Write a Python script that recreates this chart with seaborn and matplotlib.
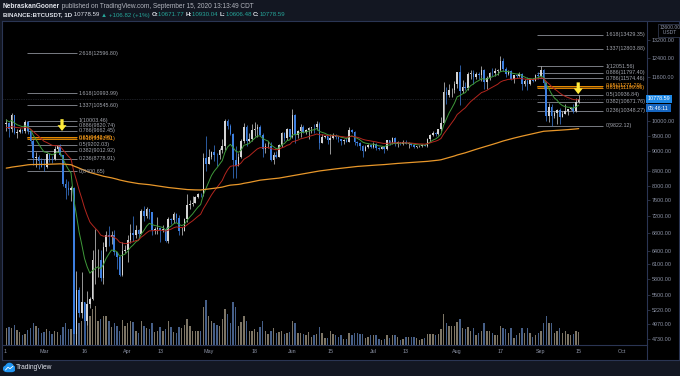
import numpy as np
import pandas as pd
import matplotlib
matplotlib.use("Agg")
import matplotlib.pyplot as plt
import matplotlib.dates as mdates
from matplotlib.ticker import NullLocator
from matplotlib.patches import Circle, Rectangle
from matplotlib.lines import Line2D
import seaborn as sns

# BTCUSDT daily candles, 16 Feb - 15 Sep 2020
first_open = 9890.0
close_feb = [9920, 9700, 10180, 9600, 9610, 9690, 9660, 9960, 9650, 9310, 8785, 8810, 8710, 8525]
close_mar = [8520, 8910, 8760, 8750, 9070, 9150, 8890, 8030, 7930, 7890, 7940, 4800, 5580, 5170, 5360,
             5030, 5330, 5410, 6190, 6190, 6190, 5820, 6470, 6750, 6700, 6760, 6370, 6260, 5880, 6390, 6410]
close_apr = [6640, 6800, 6740, 6870, 6780, 7340, 7200, 7370, 7300, 6870, 6890, 6910, 6860, 6880, 6620,
             7120, 7100, 7260, 7150, 6840, 6850, 7130, 7490, 7510, 7540, 7700, 7770, 7760, 8780, 8620]
close_may = [8830, 8970, 8900, 8880, 9030, 9150, 9990, 9810, 9540, 8720, 8560, 8810, 9310, 9790, 9310,
             9380, 9670, 9730, 9780, 9510, 9060, 9170, 9180, 8720, 8900, 8840, 9200, 9580, 9420, 9700, 9450]
close_jun = [10200, 9520, 9660, 9800, 9620, 9670, 9760, 9780, 9770, 9880, 9270, 9460, 9470, 9340, 9430,
             9520, 9460, 9390, 9310, 9360, 9290, 9680, 9620, 9290, 9250, 9160, 9010, 9120, 9190, 9140]
close_jul = [9230, 9090, 9060, 9130, 9080, 9340, 9250, 9430, 9230, 9290, 9240, 9300, 9240, 9250, 9200,
             9130, 9150, 9170, 9210, 9160, 9390, 9520, 9600, 9540, 9700, 9930, 11030, 10910, 11100, 11110, 11350]
close_aug = [11800, 11070, 11230, 11190, 11740, 11760, 11600, 11750, 11680, 11880, 11410, 11580, 11780, 11770, 11860,
             11910, 12290, 11960, 11750, 11860, 11520, 11680, 11650, 11750, 11330, 11460, 11330, 11530, 11470, 11710, 11650]
close_sep = [11920, 11390, 10170, 10470, 10170, 10250, 10370, 10130, 10230, 10340, 10390, 10440, 10330, 10671.77, 10778.59]

high_feb = [10050, 9960, 10250, 10180, 9700, 9760, 9700, 10030, 10003, 9680, 9390, 8980, 8900, 8780]
high_mar = [8750, 8950, 8920, 8850, 9170, 9170, 9220, 8890, 8180, 8120, 8000, 7970, 5960, 5650, 5940,
            5370, 5560, 5460, 6420, 6900, 6440, 6420, 6580, 6840, 6960, 6840, 6860, 6350, 6280, 6600, 6520]
high_apr = [6740, 7000, 7200, 6990, 6880, 7390, 7460, 7420, 7370, 7300, 6940, 7190, 6920, 6990, 6930,
            7170, 7150, 7310, 7270, 7220, 6940, 7150, 7770, 7600, 7710, 7720, 7800, 7790, 8950, 9470]
high_may = [9070, 9000, 9190, 8960, 9100, 9380, 10060, 10040, 9900, 9580, 9160, 8950, 9400, 9930, 9850,
            9590, 9880, 9950, 9900, 9850, 9580, 9260, 9320, 9300, 8980, 9010, 9230, 9620, 9610, 9740, 9700]
high_jun = [10390, 10230, 9690, 9870, 9860, 9720, 9800, 9800, 9890, 9990, 9940, 9550, 9500, 9490, 9540,
            9590, 9550, 9500, 9400, 9390, 9420, 9780, 9700, 9640, 9320, 9280, 9210, 9200, 9220, 9190]
high_jul = [9290, 9260, 9130, 9180, 9140, 9350, 9360, 9440, 9440, 9310, 9290, 9340, 9350, 9280, 9270,
            9230, 9180, 9190, 9240, 9210, 9420, 9540, 9640, 9620, 9730, 10120, 11400, 11230, 11340, 11170, 11450]
high_aug = [11830, 12090, 11480, 11420, 11800, 11910, 11920, 11800, 11810, 12070, 11950, 11650, 11810, 12000, 11980,
            11940, 12480, 12390, 12030, 11890, 11890, 11690, 11720, 11820, 11790, 11540, 11600, 11550, 11590, 11720, 11800]
high_sep = [12052, 11930, 11460, 10640, 10570, 10350, 10390, 10430, 10350, 10590, 10400, 10480, 10570, 10800, 10930.04]

low_feb = [9650, 9450, 9620, 9550, 9430, 9580, 9590, 9600, 9560, 9230, 8600, 8530, 8460, 8520]
low_mar = [8401, 8500, 8670, 8650, 8730, 8990, 8850, 8000, 7630, 7740, 7590, 4410, 3780, 5100, 5080,
           4450, 4950, 5250, 5400, 5700, 5850, 5760, 5700, 6380, 6500, 6540, 6310, 6000, 5860, 5860, 6340]
low_apr = [6150, 6560, 6620, 6680, 6670, 6770, 7090, 7150, 7120, 6750, 6780, 6780, 6600, 6820, 6600,
           6560, 7000, 7040, 7060, 6760, 6750, 6840, 7060, 7380, 7450, 7530, 7660, 7690, 7720, 8420]
low_may = [8620, 8750, 8700, 8560, 8770, 8950, 9030, 9700, 9520, 8200, 8200, 8550, 8790, 9260, 9180,
           9290, 9320, 9500, 9440, 9480, 8820, 8960, 9100, 8700, 8630, 8800, 8810, 9120, 9320, 9360, 9400]
low_jun = [9410, 9270, 9410, 9440, 9580, 9540, 9380, 9600, 9570, 9690, 9080, 9250, 9420, 9240, 8910,
           9380, 9400, 9280, 9200, 9220, 9280, 9280, 9570, 9210, 9150, 9030, 8830, 9010, 9100, 9090]
low_jul = [9090, 9040, 9050, 9060, 8960, 9050, 9200, 9230, 9150, 9120, 9190, 9200, 9220, 9110, 9180,
           9090, 9090, 9120, 9140, 9150, 9140, 9300, 9470, 9500, 9520, 9650, 9950, 10600, 10850, 10840, 10990]
low_aug = [11200, 10550, 11000, 11100, 11110, 11540, 11350, 11520, 11520, 11450, 11160, 11150, 11500, 11660, 11670,
           11690, 11850, 11850, 11620, 11680, 11510, 11380, 11560, 11600, 11120, 11250, 11120, 11300, 11400, 11450, 11550]
low_sep = [11600, 11160, 10000, 9960, 9822, 10100, 9890, 9900, 10110, 10220, 10210, 10360, 10250, 10300, 10606.48]

# volume, thousands of BTC
vol_feb = [70, 75, 70, 82, 62, 55, 40, 46, 63, 72, 90, 80, 70, 50]
vol_mar = [55, 67, 60, 45, 60, 55, 40, 75, 90, 65, 65, 260, 220, 90, 100, 150, 135, 120, 150, 165,
           100, 110, 120, 120, 100, 75, 90, 80, 60, 105, 80]
vol_apr = [90, 100, 95, 60, 50, 100, 80, 70, 65, 90, 55, 60, 75, 60, 65, 100, 75, 55, 50, 75,
           70, 85, 110, 80, 60, 60, 60, 60, 160, 190]
vol_may = [120, 100, 90, 85, 80, 110, 150, 130, 90, 180, 160, 80, 95, 120, 100, 60, 60, 65, 55, 75,
           100, 60, 45, 60, 70, 50, 55, 60, 45, 50, 55]
vol_jun = [100, 90, 50, 50, 45, 40, 55, 35, 40, 45, 75, 50, 30, 30, 60, 45, 40, 35, 40, 25,
           25, 50, 40, 50, 50, 45, 45, 30, 35, 40]
vol_jul = [40, 40, 25, 20, 25, 40, 30, 40, 40, 35, 20, 25, 35, 35, 35, 35, 30, 20, 25, 30,
           45, 45, 45, 40, 45, 65, 130, 90, 80, 80, 80]
vol_aug = [95, 110, 70, 65, 75, 60, 70, 40, 50, 60, 90, 60, 60, 50, 40, 40, 80, 70, 65, 50,
           70, 30, 40, 50, 70, 50, 70, 50, 35, 40, 50]
vol_sep = [60, 90, 120, 90, 90, 50, 60, 70, 50, 60, 45, 40, 45, 60, 55]

# moving-average seeds (value on 15 Feb)
ema_fast_seed, ema_slow_seed, ema_long_seed = 10050, 9750, 8480

# fibonacci retracements
fib_left_ratios = [2.618, 1.618, 1.337, 1, 0.886, 0.786, 0.65, 0.618, 0.5, 0.382, 0.236, 0]
fib_left_prices = [12596.80, 10993.99, 10545.60, 10003.46, 9820.74, 9662.45, 9442.48, 9393.51,
                   9202.03, 9012.92, 8778.91, 8400.65]
fib_right_ratios = [1.618, 1.337, 1, 0.886, 0.786, 0.65, 0.618, 0.5, 0.382, 0.236, 0]
fib_right_prices = [13429.35, 12803.88, 12051.56, 11797.40, 11574.46, 11271.20, 11199.86,
                    10936.84, 10671.76, 10348.27, 9822.12]

price_ticks = [13200, 12400, 11600, 10000, 9500, 9000, 8400, 8000, 7600, 7200, 6800,
               6400, 6100, 5800, 5500, 5220, 4970, 4730]
date_ticks = ["2020-02-15 14:00", "2020-03-01", "2020-03-16", "2020-04-01", "2020-04-13", "2020-05-01",
              "2020-05-18", "2020-06-01", "2020-06-15", "2020-07-01", "2020-07-13", "2020-08-01",
              "2020-08-17", "2020-09-01", "2020-09-15", "2020-10-01"]
date_labels = ["1", "Mar", "16", "Apr", "13", "May", "18", "Jun", "15", "Jul", "13", "Aug",
               "17", "Sep", "15", "Oct"]

# ---- frame ----
df = pd.DataFrame({
    "date": pd.date_range("2020-02-16", "2020-09-15", freq="D"),
    "close": close_feb + close_mar + close_apr + close_may + close_jun + close_jul + close_aug + close_sep,
    "high": high_feb + high_mar + high_apr + high_may + high_jun + high_jul + high_aug + high_sep,
    "low": low_feb + low_mar + low_apr + low_may + low_jun + low_jul + low_aug + low_sep,
    "volume": vol_feb + vol_mar + vol_apr + vol_may + vol_jun + vol_jul + vol_aug + vol_sep,
})
df["open"] = df["close"].shift(1).fillna(first_open)
df["high"] = df[["high", "open", "close"]].max(axis=1)
df["low"] = df[["low", "open", "close"]].min(axis=1)
df["up"] = df["close"] >= df["open"]


def ema(values, span, seed):
    a = 2 / (span + 1)
    out, e = [], seed
    for v in values:
        e = e + a * (v - e)
        out.append(e)
    return out


df["ema9"] = ema(df["close"], 9, ema_fast_seed)
df["ema21"] = ema(df["close"], 21, ema_slow_seed)
df["ema200"] = ema(df["close"], 200, ema_long_seed)

sns.set_style("dark")
plt.rcParams["font.family"] = ["Liberation Sans", "DejaVu Sans"]

W, H = 680, 376
FRAME = "#131722"
GRID = "#2a3553"
TXT = "#8c93a6"


def px_box(x0, y0, x1, y1):
    return [x0 / W, 1 - y1 / H, (x1 - x0) / W, (y1 - y0) / H]


fig = plt.figure(figsize=(6.8, 3.76), dpi=100, facecolor=FRAME)

bg = fig.add_axes(px_box(2, 21, 679, 360), facecolor="black")
bg.set_xticks([]); bg.set_yticks([])
for s in bg.spines.values():
    s.set_color(GRID); s.set_linewidth(0.8)
fig.add_artist(Line2D([647 / W, 647 / W], [1 - 360 / H, 1 - 345 / H], color=GRID, lw=0.8))

x0 = mdates.date2num(pd.Timestamp("2020-03-01"))
xlim = (x0 - 15.19, x0 + 223.3)

# volume (behind the candles)
axv = fig.add_axes(px_box(3, 22, 647, 345), facecolor="black")
vol_colors = np.where(df["up"], "#7d7565", "#465f88")
axv.bar(df["date"], df["volume"], width=0.5, color=vol_colors, linewidth=0)
axv.set_ylim(0, 1350)
axv.set_xlim(*xlim)
axv.axis("off")

ax = fig.add_axes(px_box(3, 22, 647, 345), facecolor="none", sharex=axv)
ax.set_yscale("log")
ax.set_ylim(4626, 14033)
ax.set_xlim(*xlim)

# candles
col = np.where(df["up"], "#d4d4d4", "#3d7fe0")
ax.vlines(df["date"], df["low"], df["high"], colors=col, lw=0.5, zorder=3)
body_lo = df[["open", "close"]].min(axis=1)
body_h = (df["close"] - df["open"]).abs().clip(lower=8)
ax.bar(df["date"], body_h, bottom=body_lo, width=0.6, color=col, linewidth=0, zorder=4)

# moving averages
sns.lineplot(x=df["date"], y=df["ema9"], ax=ax, color="#3f9a3a", lw=0.7, zorder=5)
sns.lineplot(x=df["date"], y=df["ema21"], ax=ax, color="#b3261e", lw=0.7, zorder=5)
sns.lineplot(x=df["date"], y=df["ema200"], ax=ax, color="#e8972a", lw=0.9, zorder=5)

# last price line
ax.axhline(df["close"].iloc[-1], color="#3a3f4c", lw=0.5, ls=(0, (1, 1.5)), zorder=1)


def draw_fib(ratios, prices, start, end, label_at):
    xs, xe, xl = (mdates.date2num(pd.Timestamp(d)) for d in (start, end, label_at))
    zone = [p for r, p in zip(ratios, prices) if r in (0.618, 0.65)]
    ax.fill_between([xs, xe], min(zone), max(zone), color="#b8730f", alpha=0.55, lw=0, zorder=2)
    for r, p in zip(ratios, prices):
        gold = r in (0.618, 0.65)
        ax.hlines(p, xs, xe, color="#ff9800" if gold else "#8d9099", lw=0.6, zorder=2)
        ax.text(xl, p, f"{r:g}({p:.2f})", color="#ff9f1a" if gold else "#a3a6af",
                fontsize=3.9, va="center", ha="left", zorder=6)


draw_fib(fib_left_ratios, fib_left_prices, "2020-02-23 17:00", "2020-03-13 05:00", "2020-03-13 20:00")
draw_fib(fib_right_ratios, fib_right_prices, "2020-08-30 14:00", "2020-09-24", "2020-09-25 02:00")

# yellow arrows
for d, p in [("2020-03-07 16:00", 9650), ("2020-09-14 20:00", 10950)]:
    ax.annotate("", xy=(mdates.date2num(pd.Timestamp(d)), p), xytext=(0, 8.5), textcoords="offset points",
                arrowprops=dict(facecolor="#ffeb3b", edgecolor="none", width=2.3, headwidth=6.5,
                                headlength=4.2, shrink=0), zorder=7)

# axes styling
ax.yaxis.tick_right()
ax.yaxis.set_minor_locator(NullLocator())
ax.set_yticks(price_ticks)
ax.set_yticklabels([f"{v:.2f}" for v in price_ticks])
ax.set_xticks([mdates.date2num(pd.Timestamp(d)) for d in date_ticks])
ax.set_xticklabels(date_labels)
ax.tick_params(axis="y", colors="#39425a", labelcolor=TXT, labelsize=3.9, length=2, width=0.5, pad=1.5)
ax.tick_params(axis="x", length=0, labelcolor=TXT, labelsize=3.9, pad=3.2)
ax.set_xlabel(""); ax.set_ylabel("")
ax.grid(False)
for name, s in ax.spines.items():
    s.set_visible(name in ("right", "bottom"))
    s.set_color(GRID); s.set_linewidth(0.8)

# price / countdown boxes
yp = 1 - (99 - 22) / 323
ax.text(1.0015, yp, "10778.59", transform=ax.transAxes, fontsize=3.9, color="white", va="center",
        ha="left", bbox=dict(boxstyle="square,pad=0.35", fc="#1e88e5", ec="none"))
ax.text(1.0015, yp - 0.028, "05:46:11", transform=ax.transAxes, fontsize=3.9, color="white", va="center",
        ha="left", bbox=dict(boxstyle="square,pad=0.35", fc="#1565c0", ec="none"))
ax.text(1.02, 0.99, "13600.00\n  USDT", transform=ax.transAxes, fontsize=3.6, color=TXT, va="top",
        ha="left", linespacing=1.0, bbox=dict(boxstyle="square,pad=0.3", fc="black", ec="#39425a", lw=0.5))

# header
def chain(parts, x, y, size):
    prev = None
    for text, color, weight in parts:
        if prev is None:
            prev = fig.text(x, y, text, color=color, fontsize=size, fontweight=weight, va="center")
        else:
            prev = bg.annotate(text, xy=(1, 0.5), xycoords=prev, color=color, fontsize=size,
                               fontweight=weight, va="center", ha="left", annotation_clip=False)


WHITE, SOFT, TEAL = "#e0e3eb", "#b2b5be", "#26a69a"
chain([("NebraskanGooner", WHITE, "bold"),
       (" published on TradingView.com, September 15, 2020 13:13:49 CDT", SOFT, "normal")],
      3 / W, 1 - 6.5 / H, 4.7)
chain([("BINANCE:BTCUSDT, 1D", WHITE, "bold"), (" 10778.59 ", WHITE, "normal"),
       ("▲ +106.82 (+1%) ", TEAL, "normal"), ("O:", WHITE, "bold"), ("10671.77 ", TEAL, "normal"),
       ("H:", WHITE, "bold"), ("10930.04 ", TEAL, "normal"), ("L:", WHITE, "bold"),
       ("10606.48 ", TEAL, "normal"), ("C:", WHITE, "bold"), ("10778.59", TEAL, "normal")],
      3 / W, 1 - 15 / H, 4.4)

# footer logo
logo = fig.add_axes(px_box(3, 362, 15, 373))
logo.set_xlim(0, 12); logo.set_ylim(0, 11); logo.axis("off")
logo.add_patch(Circle((6.5, 6), 3.6, color="#2196f3"))
logo.add_patch(Circle((3.2, 4.3), 2.6, color="#2196f3"))
logo.add_patch(Circle((9.4, 4.3), 2.6, color="#2196f3"))
logo.add_patch(Rectangle((3.2, 1.7), 6.2, 3, color="#2196f3"))
logo.plot([2.5, 5, 7, 10], [3, 5.8, 4.3, 6.8], color="white", lw=0.6)
fig.text(16 / W, 1 - 367.5 / H, "TradingView", color="#e0e3eb", fontsize=4.8, va="center")

fig.savefig("out.png", dpi=100, facecolor=FRAME)
